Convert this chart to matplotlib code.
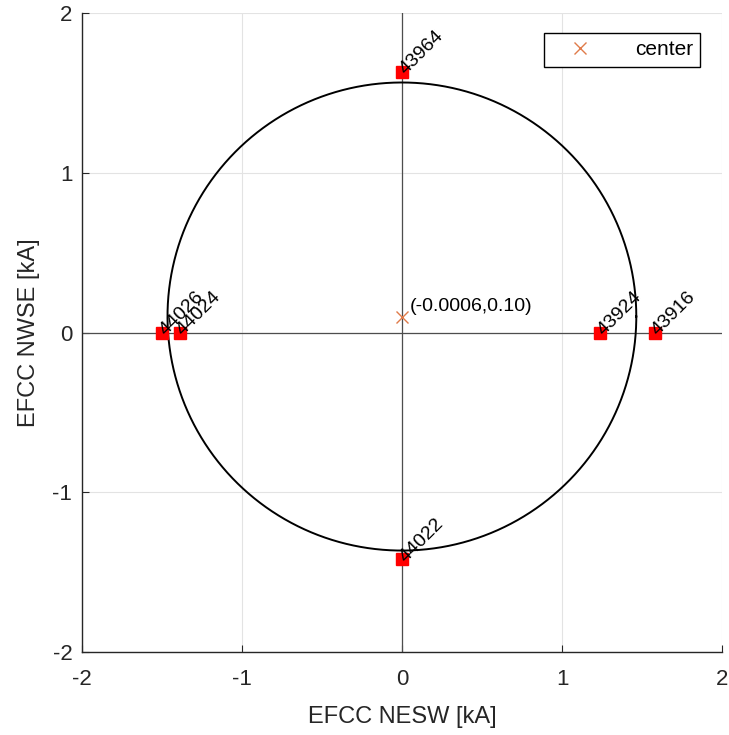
import numpy as np
import matplotlib
matplotlib.use("Agg")
import matplotlib.pyplot as plt

plt.rcParams['font.family'] = ['Liberation Sans', 'DejaVu Sans']
plt.rcParams['axes.unicode_minus'] = False

# probe positions [kA] and their labels
probe_x = [0.0, -1.50, -1.39, 1.24, 1.58, 0.0]
probe_y = [1.63, 0.0, 0.0, 0.0, 0.0, -1.42]
probe_ids = ['43964', '44026', '44024', '43924', '43916', '44022']

# fitted circle
center_x = -0.0006
center_y = 0.10
radius = 1.465

fig = plt.figure(figsize=(7.29, 7.35), dpi=100)
ax = fig.add_axes([82 / 729, 1 - 652 / 735, 640 / 729, 639 / 735])

ax.axhline(0, color='#4d4d4d', lw=0.9, zorder=1)
ax.axvline(0, color='#4d4d4d', lw=0.9, zorder=1)

t = np.linspace(0, 2 * np.pi, 400)
ax.plot(center_x + radius * np.cos(t), center_y + radius * np.sin(t), color='black', lw=1.4, zorder=2)

ax.plot(probe_x, probe_y, 's', color='red', ms=8, ls='none', zorder=3)
for px, py, name in zip(probe_x, probe_y, probe_ids):
    ax.text(px, py, name, rotation=45, rotation_mode='anchor', ha='left', va='center',
            fontsize=14, color='black', zorder=4)

ax.plot([center_x], [center_y], 'x', color='#e07b4a', ms=9, mew=1.0, ls='none', label='center', zorder=4)
ax.text(center_x + 0.05, center_y + 0.06, '(%.4f,%.2f)' % (center_x, center_y), ha='left', va='center',
        fontsize=14, color='black', zorder=4)

ax.set_xlim(-2, 2)
ax.set_ylim(-2, 2)
ax.set_xticks([-2, -1, 0, 1, 2])
ax.set_yticks([-2, -1, 0, 1, 2])
ax.grid(True, color='#e3e3e3', lw=0.8)
ax.set_axisbelow(True)
for s in ['top', 'right']:
    ax.spines[s].set_visible(False)
for s in ['left', 'bottom']:
    ax.spines[s].set_color('#262626')
    ax.spines[s].set_linewidth(1.0)
ax.tick_params(direction='in', length=5, labelsize=16, colors='#262626')
ax.tick_params(axis='x', pad=12)
ax.tick_params(axis='y', pad=7)
ax.set_xlabel('EFCC NESW [kA]', fontsize=17, color='#262626', labelpad=12)
ax.set_ylabel('EFCC NWSE [kA]', fontsize=17, color='#262626', labelpad=9)

leg = ax.legend(loc='upper right', fontsize=15, fancybox=False, framealpha=1, edgecolor='black',
                handlelength=2.8, borderpad=0.35, handletextpad=1.2, bbox_to_anchor=(0.982, 0.985))
leg.get_frame().set_linewidth(1.0)

fig.savefig('out.png', dpi=100)
